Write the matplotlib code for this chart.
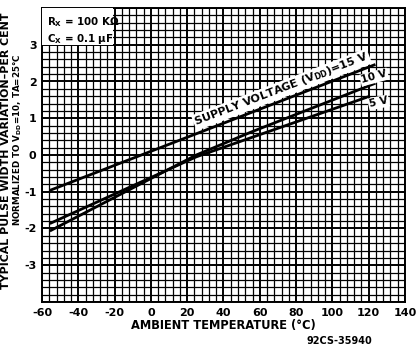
import numpy as np
import matplotlib
matplotlib.use("Agg")
import matplotlib.pyplot as plt
from matplotlib.patches import Rectangle

# Data
t15 = [-55, 123]
v15 = [-0.95, 2.45]
t10 = [-55, 25, 55, 123]
v10 = [-2.05, 0.0, 0.62, 1.94]
t5 = [-55, 25, 120]
v5 = [-1.85, -0.05, 1.59]
xticks = [-60, -40, -20, 0, 20, 40, 60, 80, 100, 120, 140]
yticks = [-3, -2, -1, 0, 1, 2, 3]

plt.rcParams['font.family'] = ['DejaVu Sans']
fig = plt.figure(figsize=(4.16, 3.46), dpi=100)
ax = fig.add_axes([42/416, 1-302/346, (405-42)/416, (302-8)/346])
ax.set_xlim(-60, 140)
ax.set_ylim(-4, 4)

# grid
for x in np.arange(-60, 141, 4):
    lw = 1.4 if x % 20 == 0 else 0.9
    ax.axvline(x, color='black', lw=lw, zorder=1)
for y in np.arange(-4, 4.01, 0.2):
    lw = 1.4 if abs(y - round(y)) < 1e-6 else 0.9
    ax.axhline(y, color='black', lw=lw, zorder=1)

for s in ax.spines.values():
    s.set_linewidth(1.4)

ax.plot(t5, v5, color='black', lw=2.0, zorder=3)
ax.plot(t10, v10, color='black', lw=2.0, zorder=3)
ax.plot(t15, v15, color='black', lw=2.0, zorder=3)

ax.set_xticks(xticks)
ax.set_xticklabels([str(t) for t in xticks])
ax.set_yticks(yticks)
ax.set_yticklabels([str(t) for t in yticks])
ax.tick_params(length=0, labelsize=8, pad=4)
for lab in ax.get_xticklabels() + ax.get_yticklabels():
    lab.set_fontweight('bold')

ax.set_xlabel('AMBIENT TEMPERATURE (°C)', fontsize=8.3, fontweight='bold', labelpad=1)
fig.text(6/416, 1-151/346, 'TYPICAL PULSE WIDTH VARIATION–PER CENT', rotation=90,
         fontsize=7.9, fontweight='bold', ha='center', va='center')
fig.text(18/416, 1-140/346, 'NORMALIZED TO V$_{\\mathbf{DD}}$=10, TA=25°C', rotation=90,
         fontsize=6.3, fontweight='bold', ha='center', va='center')
fig.text(372/416, 1-341/346, '92CS-35940', fontsize=7, fontweight='bold', ha='right', va='center')

# parameter box
ax.add_patch(Rectangle((-60, 3.0), 39, 1.0, fc='white', ec='none', zorder=4))
ax.text(-57, 3.62, 'R$_{\\mathbf{X}}$ = 100 KΩ', fontsize=7.4, fontweight='bold',
        va='center', ha='left', zorder=5)
ax.text(-57, 3.15, 'C$_{\\mathbf{X}}$ = 0.1 μF', fontsize=7.4, fontweight='bold',
        va='center', ha='left', zorder=5)

ax.text(72, 1.78, 'SUPPLY VOLTAGE (V$_{\\mathbf{DD}}$)=15 V', fontsize=8.0, fontweight='bold',
        rotation=21, ha='center', va='center', zorder=5,
        bbox=dict(boxstyle='square,pad=0.1', fc='white', ec='none'))
ax.text(123, 2.12, '10 V', fontsize=7.6, fontweight='bold', rotation=15,
        ha='center', va='center', zorder=5,
        bbox=dict(boxstyle='square,pad=0.1', fc='white', ec='none'))
ax.text(125.5, 1.43, '5 V', fontsize=7.6, fontweight='bold', rotation=12,
        ha='center', va='center', zorder=5,
        bbox=dict(boxstyle='square,pad=0.1', fc='white', ec='none'))

fig.savefig('out.png', dpi=100)
